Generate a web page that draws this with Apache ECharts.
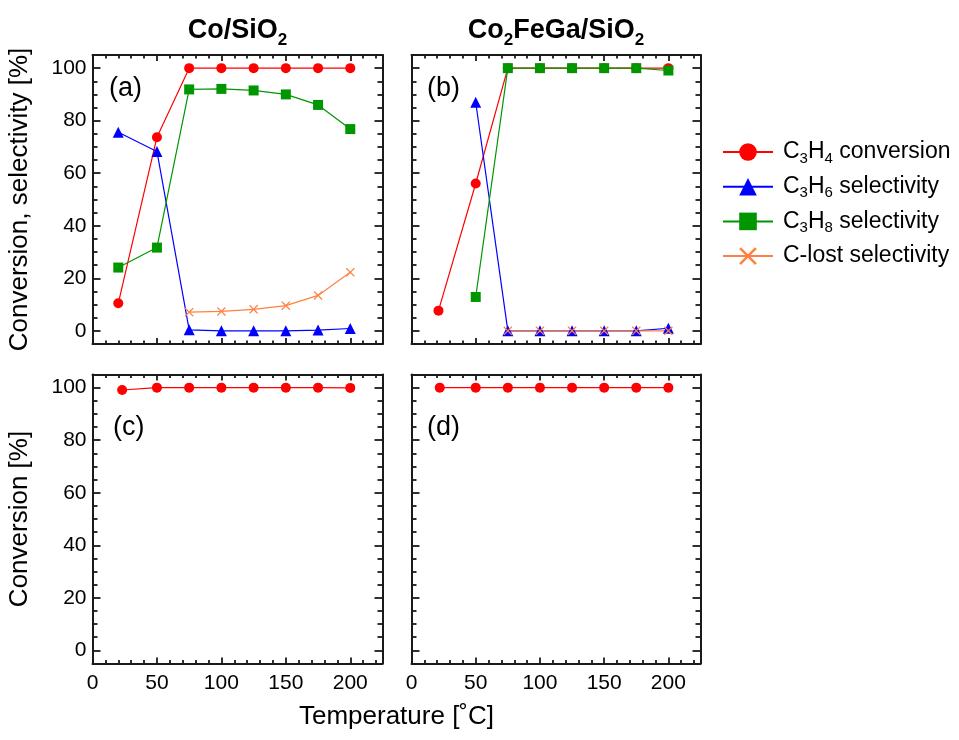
<!DOCTYPE html>
<html>
<head>
<meta charset="utf-8">
<script src="https://cdn.jsdelivr.net/npm/echarts@6/dist/echarts.min.js"></script>
<style>
  html, body { margin: 0; padding: 0; background: #fff; }
  #chart { width: 959px; height: 740px; }
</style>
</head>
<body>
<div id="chart"></div>
<script>
/* 四面板：转化率 / 选择性 vs 温度 */

// ---- data ----
const tempA = [20, 50, 75, 100, 125, 150, 175, 200];
const tempB = [21, 50, 75, 100, 125, 150, 175, 200];
const tempC = [23, 50, 75, 100, 125, 150, 175, 200];
const tempD = [22, 50, 75, 100, 125, 150, 175, 200];

// (a) Co/SiO2
const convA  = [10.5, 73.7, 100, 100, 100, 100, 100, 100];
const c3h6A  = [75.6, 68.3, 0.4, 0, 0, 0, 0.3, 0.9];
const c3h8A  = [24.1, 31.7, 91.9, 92.1, 91.5, 90.0, 86.0, 76.8];
const clostA = [null, null, 7.1, 7.4, 8.2, 9.6, 13.5, 22.3];

// (b) Co2FeGa/SiO2
const convB  = [7.7, 56.1, 100, 100, 100, 100, 100, 100];
const c3h6B  = [null, 87.0, 0, 0, 0, 0, 0, 1.0];
const c3h8B  = [null, 12.9, 100, 100, 100, 100, 100, 99.1];
const clostB = [null, null, 0, 0, 0, 0, 0, 0];

// (c), (d) conversion only
const convC = [99.1, 100, 100, 100, 100, 100, 100, 99.9];
const convD = [100, 100, 100, 100, 100, 100, 100, 100];

// ticks
const xMajor = [0, 50, 100, 150, 200];
const xMinor = [10, 20, 30, 40, 60, 70, 80, 90, 110, 120, 130, 140, 160, 170, 180, 190, 210, 220];
const yMajor = [0, 20, 40, 60, 80, 100];
const yMinor = [5, 10, 15, 25, 30, 35, 45, 50, 55, 65, 70, 75, 85, 90, 95];

const seriesNames = ['C3H4 conversion', 'C3H6 selectivity', 'C3H8 selectivity', 'C-lost selectivity'];

// ---- style ----
const FONT = '"Liberation Sans", Arial, Helvetica, sans-serif';
const INK = '#1a1a1a';
const RED = '#ff0000';
const BLUE = '#0000ff';
const GREEN = '#009600';
const ORANGE = '#ff8040';
const CROSS = 'path://M1,0L5,4L9,0L10,1L6,5L10,9L9,10L5,6L1,10L0,9L4,5L0,1Z';

const grids = [
  { left: 92.5, top: 55, width: 290, height: 289 },
  { left: 411.5, top: 55, width: 289, height: 289 },
  { left: 92.5, top: 374.5, width: 290, height: 289 },
  { left: 411.5, top: 374.5, width: 289, height: 289 }
];

function tickAxis(kind, g, position, values, len, lineOn, labelOn) {
  const isX = kind === 'x';
  return {
    type: 'value',
    gridIndex: g,
    position: position,
    min: isX ? 0 : -5,
    max: isX ? 225 : 105,
    splitLine: { show: false },
    axisLine: { show: lineOn, onZero: false, lineStyle: { color: INK, width: 2 } },
    axisTick: { show: true, inside: true, length: len, customValues: values, lineStyle: { color: INK, width: 1.8 } },
    axisLabel: {
      show: labelOn,
      customValues: values,
      margin: isX ? 9 : 6,
      fontSize: 21,
      fontFamily: FONT,
      color: '#000'
    }
  };
}

const xAxes = [];
const yAxes = [];
grids.forEach((grid, g) => {
  const bottomRow = g >= 2;
  const leftCol = g % 2 === 0;
  xAxes.push(
    tickAxis('x', g, 'bottom', xMajor, 6, true, bottomRow),
    tickAxis('x', g, 'bottom', xMinor, 3.5, false, false),
    tickAxis('x', g, 'top', xMajor, 6, true, false),
    tickAxis('x', g, 'top', xMinor, 3.5, false, false)
  );
  yAxes.push(
    tickAxis('y', g, 'left', yMajor, 8, true, leftCol),
    tickAxis('y', g, 'left', yMinor, 5, false, false),
    tickAxis('y', g, 'right', yMajor, 8, true, false),
    tickAxis('y', g, 'right', yMinor, 5, false, false)
  );
});

function makeSeries(name, g, xs, ys, color, symbol, size) {
  const data = xs.map((x, i) => [x, ys[i]]).filter(p => p[1] !== null);
  return {
    name: name,
    type: 'line',
    xAxisIndex: g * 4,
    yAxisIndex: g * 4,
    data: data,
    symbol: symbol,
    symbolSize: size,
    showSymbol: true,
    lineStyle: { color: color, width: 1.2 },
    itemStyle: { color: color },
    emphasis: { disabled: true }
  };
}

const series = [
  makeSeries(seriesNames[0], 0, tempA, convA, RED, 'circle', 10),
  makeSeries(seriesNames[1], 0, tempA, c3h6A, BLUE, 'triangle', 11),
  makeSeries(seriesNames[2], 0, tempA, c3h8A, GREEN, 'rect', 10),
  makeSeries(seriesNames[3], 0, tempA, clostA, ORANGE, CROSS, 9),

  makeSeries(seriesNames[0], 1, tempB, convB, RED, 'circle', 10),
  makeSeries(seriesNames[1], 1, tempB, c3h6B, BLUE, 'triangle', 11),
  makeSeries(seriesNames[2], 1, tempB, c3h8B, GREEN, 'rect', 10),
  makeSeries(seriesNames[3], 1, tempB, clostB, ORANGE, CROSS, 9),

  makeSeries(seriesNames[0], 2, tempC, convC, RED, 'circle', 10),
  makeSeries(seriesNames[0], 3, tempD, convD, RED, 'circle', 10)
];

const legendText = {
  'C3H4 conversion': 'C{s|3}H{s|4} conversion',
  'C3H6 selectivity': 'C{s|3}H{s|6} selectivity',
  'C3H8 selectivity': 'C{s|3}H{s|8} selectivity',
  'C-lost selectivity': 'C-lost selectivity'
};

function txt(x, y, text, size, opts) {
  return Object.assign({
    type: 'text',
    x: x,
    y: y,
    silent: true,
    style: Object.assign({
      text: text,
      fontSize: size,
      fontFamily: FONT,
      fill: '#000',
      align: 'center',
      verticalAlign: 'middle'
    }, (opts && opts.style) || {})
  }, (opts && opts.el) || {});
}

const titleRich = {
  b: { fontSize: 27, fontWeight: 'bold', fontFamily: FONT, fill: '#000', lineHeight: 36 },
  s: { fontSize: 17, fontWeight: 'bold', fontFamily: FONT, fill: '#000', verticalAlign: 'bottom', lineHeight: 36 }
};

const option = {
  backgroundColor: '#fff',
  animation: false,
  grid: grids.map(g => Object.assign({ outerBoundsMode: 'none', containLabel: false }, g)),
  xAxis: xAxes,
  yAxis: yAxes,
  series: series,
  legend: {
    orient: 'vertical',
    left: 722,
    top: 138,
    padding: 0,
    itemWidth: 50,
    itemHeight: 22,
    itemGap: 6.7,
    selectedMode: false,
    data: seriesNames,
    formatter: name => legendText[name],
    textStyle: {
      fontSize: 23,
      fontFamily: FONT,
      color: '#000',
      lineHeight: 28,
      padding: [0, 0, 0, 5],
      rich: {
        s: { fontSize: 15, fontFamily: FONT, color: '#000', verticalAlign: 'bottom', lineHeight: 28 }
      }
    }
  },
  graphic: [
    txt(237.5, 31, '{b|Co/SiO}{s|2}', 27, { style: { rich: titleRich } }),
    txt(556, 31, '{b|Co}{s|2}{b|FeGa/SiO}{s|2}', 27, { style: { rich: titleRich } }),
    txt(20, 199.5, 'Conversion, selectivity [%]', 26, { el: { rotation: Math.PI / 2 } }),
    txt(20, 519, 'Conversion [%]', 26, { el: { rotation: Math.PI / 2 } }),
    txt(396.5, 717, 'Temperature [˚C]', 26),
    txt(109, 89, '(a)', 27, { style: { align: 'left' } }),
    txt(427, 89, '(b)', 27, { style: { align: 'left' } }),
    txt(113, 428, '(c)', 27, { style: { align: 'left' } }),
    txt(427, 428, '(d)', 27, { style: { align: 'left' } })
  ]
};

const chart = echarts.init(document.getElementById('chart'), null, { renderer: 'canvas' });
chart.setOption(option);
</script>
</body>
</html>
